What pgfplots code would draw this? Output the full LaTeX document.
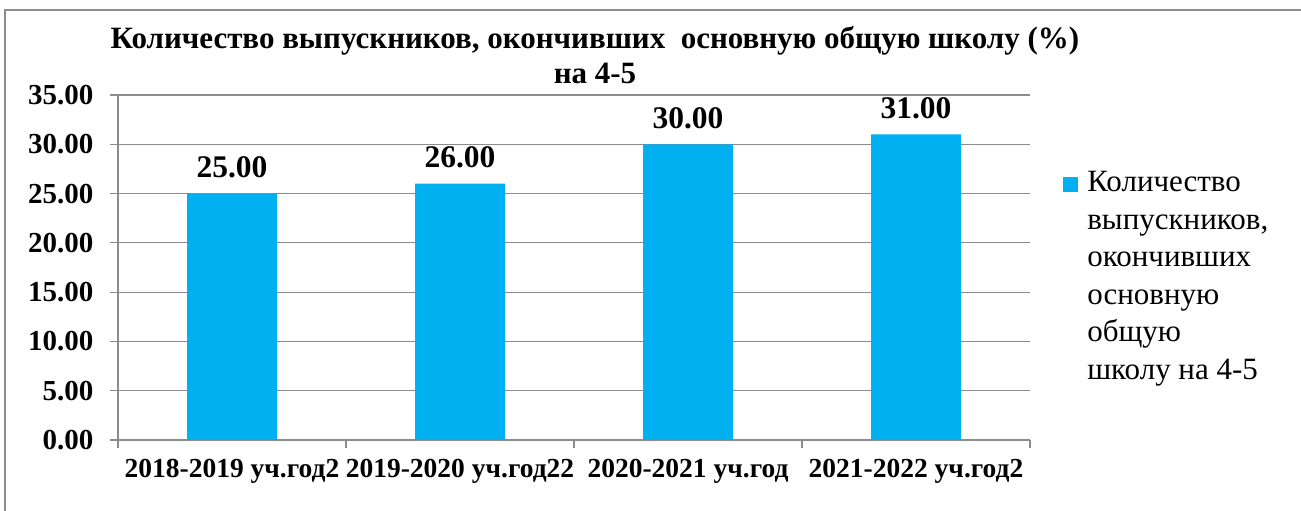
\documentclass[border=0pt]{standalone}
\usepackage{pgfplots}
\pgfplotsset{compat=1.18}
\usepackage{fontspec}
\setmainfont{Liberation Serif}
\definecolor{barblue}{HTML}{00B0F0}
\definecolor{gridgray}{HTML}{8C8C8C}
\begin{document}
\begin{tikzpicture}
\useasboundingbox (0,0) rectangle (1301pt,511pt);
\draw[gridgray, line width=1.2pt] (5pt,-5pt) -- (5pt,501pt) -- (1310pt,501pt);
\begin{axis}[
  at={(118pt,71pt)}, anchor=south west,
  scale only axis, width=912pt, height=345pt,
  xmin=-0.5, xmax=3.5, ymin=0, ymax=35,
  xtick={0,1,2,3},
  xticklabels={2018-2019 уч.год2, 2019-2020 уч.год22, 2020-2021 уч.год, 2021-2022 уч.год2},
  minor xtick={-0.5,0.5,1.5,2.5,3.5},
  major x tick style={draw=none},
  minor tick length=8pt,
  ytick={0,5,...,35},
  major tick length=8pt,
  tick align=outside, tick pos=left,
  axis y line*=left, axis x line*=bottom,
  axis line style={gridgray, line width=1.2pt},
  tick style={gridgray, line width=1.2pt},
  ymajorgrids, grid style={gridgray, line width=1.2pt},
  x tick label style={font=\fontsize{27.5}{30}\selectfont\bfseries, yshift=-8pt},
  y tick label style={font=\fontsize{29}{30}\selectfont\bfseries, xshift=-13pt},
  yticklabel style={/pgf/number format/.cd, fixed, fixed zerofill, precision=2, assume math mode=true},
  title={Количество выпускников, окончивших\ \ основную общую школу (\%)\\на 4-5},
  title style={font=\fontsize{31}{35}\selectfont\bfseries, align=center, at={(0.523,1)}, anchor=south, yshift=2pt},
  legend style={draw=none, at={(1.033,0.79)}, anchor=north west, font=\fontsize{31}{37.5}\selectfont, nodes={align=left}},
  legend image code/.code={\fill[barblue] (0pt,84pt) rectangle (15pt,99pt); \path (22pt,90pt);},
  ]
\addplot[ybar, bar width=90pt, fill=barblue, draw=none,
  nodes near coords,
  nodes near coords style={font=\fontsize{31.5}{33}\selectfont\bfseries, yshift=12pt, /pgf/number format/.cd, fixed, fixed zerofill, precision=2, assume math mode=true},
  ] coordinates {(0,25) (1,26) (2,30) (3,31)};
\addlegendentry{Количество\\выпускников,\\окончивших\\основную\\общую\\школу на 4-5}
\end{axis}
\end{tikzpicture}
\end{document}
